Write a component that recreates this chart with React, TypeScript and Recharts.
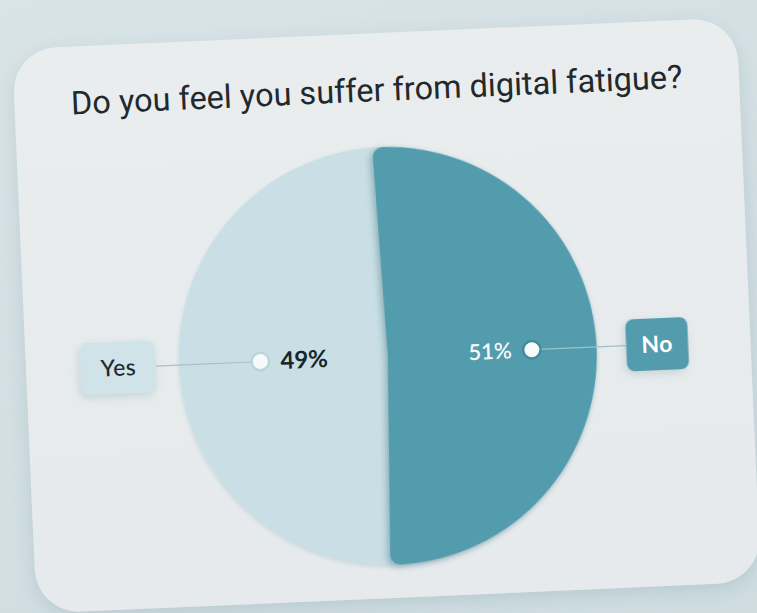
import React from 'react';
import { PieChart, Pie, Cell } from 'recharts';

const title = 'Do you feel you suffer from digital fatigue?';
const categories = ['No', 'Yes'];
const values = [51, 49];
const percentLabels = ['51%', '49%'];

const data = categories.map((name, i) => ({ name, value: values[i], pct: percentLabels[i] }));

const DARK = '#529cad';
const LIGHT = '#c9dfe5';
const sliceColors = [DARK, LIGHT];

const CARD_W = 725;
const CARD_H = 565;
const CX = 357;
const CY = 318;
const R = 209;
const START = 90 + 1.8;

const RAD = Math.PI / 180;

const renderLabel = (props: any) => {
  const { cx, cy, midAngle, outerRadius, index } = props;
  const name = categories[index];
  const pct = percentLabels[index];
  const isDark = index === 0;
  const c = Math.cos(-midAngle * RAD);
  const s = Math.sin(-midAngle * RAD);
  const side = c >= 0 ? 1 : -1;
  const dotR = outerRadius * (isDark ? 0.69 : 0.61);
  const dx = cx + dotR * c;
  const dy = cy + dotR * s;
  const boxR = outerRadius * 1.29;
  const bx = cx + boxR * c;
  const by = cy + boxR * s;
  const w = name.length * 13 + 36;
  const h = 52;
  return (
    <g key={`lab-${index}`}>
      <line
        x1={dx}
        y1={dy}
        x2={bx - (side * w) / 2}
        y2={by}
        stroke={isDark ? '#9cc3cc' : '#a9c0c6'}
        strokeWidth={1.2}
      />
      <circle cx={dx} cy={dy} r={10} fill={isDark ? '#3f8798' : '#b7d2d9'} opacity={0.8} />
      <circle cx={dx} cy={dy} r={7.5} fill="#f7fafb" />
      <text
        x={dx - side * 20}
        y={dy}
        dy="0.35em"
        textAnchor={side > 0 ? 'end' : 'start'}
        fill={isDark ? '#f4f9fa' : '#16262c'}
        fontSize={isDark ? 22 : 24}
        fontWeight={isDark ? 600 : 700}
        fontFamily="Lato, 'Noto Sans', sans-serif"
      >
        {pct}
      </text>
      <rect
        x={bx - w / 2}
        y={by - h / 2}
        width={w}
        height={h}
        rx={8}
        ry={8}
        fill={isDark ? DARK : '#cfe3e8'}
        filter="url(#boxShadow)"
      />
      <text
        x={bx}
        y={by}
        dy="0.35em"
        textAnchor="middle"
        fill={isDark ? '#ffffff' : '#1d2b30'}
        fontSize={23}
        fontWeight={isDark ? 700 : 500}
        fontFamily="Lato, 'Noto Sans', sans-serif"
        letterSpacing={0.5}
      >
        {name}
      </text>
    </g>
  );
};

export default function App() {
  return (
    <div
      style={{
        position: 'fixed',
        left: 0,
        top: 0,
        width: 757,
        height: 613,
        overflow: 'hidden',
        background: 'linear-gradient(160deg, #d9e4e7 0%, #d2dfe3 50%, #cfdde1 100%)',
      }}
    >
      <div
        style={{
          position: 'absolute',
          left: 24,
          top: 33,
          width: CARD_W,
          height: CARD_H,
          borderRadius: 44,
          background: 'linear-gradient(180deg, #e9edee 0%, #e6eaec 100%)',
          transform: 'rotate(-2.5deg)',
          boxShadow: '0 6px 18px rgba(120,150,160,0.25)',
        }}
      >
        <div
          style={{
            position: 'absolute',
            left: 0,
            top: 38,
            width: CARD_W,
            textAlign: 'center',
            fontFamily: "Roboto, 'Noto Sans', sans-serif",
            fontSize: 32.5,
            color: '#22292c',
            letterSpacing: 0,
          }}
        >
          {title}
        </div>
        <div style={{ position: 'absolute', left: 0, top: 0 }}>
          <PieChart width={CARD_W} height={CARD_H}>
            <defs>
              <filter id="sliceShadow" x="-20%" y="-20%" width="140%" height="140%">
                <feDropShadow dx={-3} dy={2} stdDeviation={3} floodColor="#2f5f6b" floodOpacity={0.35} />
              </filter>
              <filter id="discShadow" x="-20%" y="-20%" width="140%" height="140%">
                <feDropShadow dx={0} dy={2} stdDeviation={2} floodColor="#8fb0b8" floodOpacity={0.35} />
              </filter>
              <filter id="boxShadow" x="-40%" y="-40%" width="180%" height="180%">
                <feDropShadow dx={-2} dy={3} stdDeviation={4} floodColor="#7c9aa3" floodOpacity={0.3} />
              </filter>
            </defs>
            <Pie
              data={data}
              dataKey="value"
              nameKey="name"
              cx={CX}
              cy={CY}
              outerRadius={R}
              startAngle={START}
              endAngle={START - 360}
              stroke="none"
              isAnimationActive={false}
              style={{ filter: 'url(#discShadow)' }}
            >
              {data.map((d, i) => (
                <Cell key={`b-${i}`} fill={LIGHT} />
              ))}
            </Pie>
            <Pie
              data={data}
              dataKey="value"
              nameKey="name"
              cx={CX}
              cy={CY}
              outerRadius={R}
              startAngle={START}
              endAngle={START - 360}
              cornerRadius={10}
              stroke="none"
              isAnimationActive={false}
              label={renderLabel}
              labelLine={false}
            >
              {data.map((d, i) => (
                <Cell
                  key={`c-${i}`}
                  fill={sliceColors[i]}
                  fillOpacity={i === 0 ? 1 : 0}
                  filter={i === 0 ? 'url(#sliceShadow)' : undefined}
                />
              ))}
            </Pie>
          </PieChart>
        </div>
      </div>
    </div>
  );
}
